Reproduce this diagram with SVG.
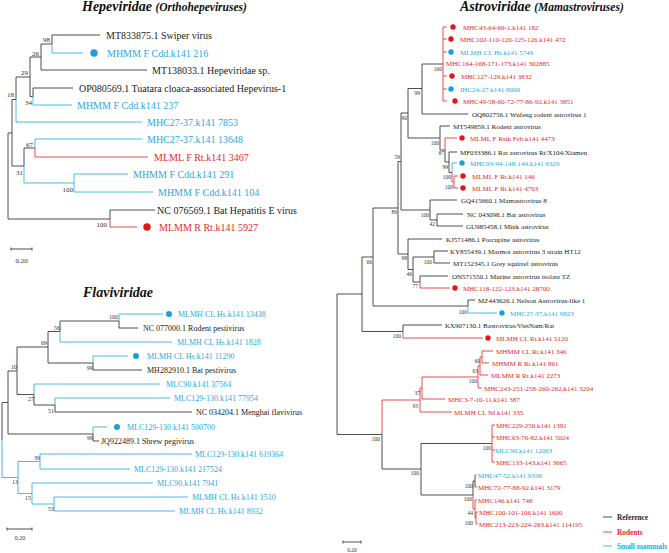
<svg xmlns="http://www.w3.org/2000/svg" width="669" height="553" viewBox="0 0 669 553">
<style>
text{font-family:"Liberation Serif","Times New Roman",serif}
.k{fill:none;stroke:#3a3a3a;stroke-width:0.9}
.b{fill:none;stroke:#35b2e6;stroke-width:0.9}
.r{fill:none;stroke:#e8383c;stroke-width:0.9}
.t{font-weight:bold;font-style:italic;fill:#111}
.h{font-size:10px}
.f{font-size:8px}
.a{font-size:7px}
.tk{fill:#222}
.tb{fill:#2aa9e2}
.tr{fill:#e8262a}
.s7{font-size:7px;fill:#333;text-anchor:end}
.s6{font-size:6px;fill:#333;text-anchor:end}
.s5{font-size:5.5px;fill:#333;text-anchor:end}
.db{fill:#1b9de2}
.dr{fill:#e4141b}
.lg{font-size:7.3px;font-weight:bold}
</style>

<g id="titles">
<text x="82" y="11" class="t" font-size="14">Hepeviridae <tspan font-size="11.5">(Orthohepeviruses)</tspan></text>
<text x="83" y="297" class="t" font-size="14">Flaviviridae</text>
<text x="460" y="11" class="t" font-size="14">Astroviridae <tspan font-size="11.5">(Mamastroviruses)</tspan></text>
</g>

<g id="connectors">
<path class="k" d="M8,133V219 M8,133H12 M8,219H110 M12,99.5V166 M12,99.5H16 M12,166H24 M16,77V99.5 M16,77H30 M30,57V96.5 M30,57H41 M30,96.5H33 M41,44V70 M41,44H52 M41,70H147 M52,35V44 M52,35H100 M33,88V96.5 M33,88H73 M24,148V166 M24,148H35 M110,210V219 M110,210H155"/>
<path class="b" d="M16,99.5V122H142 M52,44V53H83 M33,96.5V105H72 M24,166V183H74 M35,139V148 M35,139H142 M74,174V192 M74,174H128 M74,192H153"/>
<path class="r" d="M35,148V157H148 M110,219V227H137"/>

<path class="k" d="M2,402.5V440 M2,402.5H8 M8,371V434 M8,371H17 M8,434H93 M17,347V394.5 M17,347H48 M17,394.5H34 M48,331.5V363 M48,331.5H60 M48,363H93 M60,321V331.5 M60,321H119 M119,321V328H138 M93,363V370H142 M34,394.5V405H55 M55,405V412H192 M93,434V441H99"/>
<path class="b" d="M2,440V477.5H18 M60,331.5V342H172 M119,314V321 M119,314H163 M93,356V363 M93,356H128 M34,384V394.5 M34,384H160 M55,398V405 M55,398H170 M93,427V434 M93,427H107 M18,461.5V493.5 M18,461.5H40 M18,493.5H32 M40,454V469 M40,454H192 M40,469H130 M32,483V504 M32,483H153 M32,504H54 M54,497V511 M54,497H188 M54,511H175"/>

<path class="k" d="M337,294V434.5 M337,294H362 M337,434.5H382 M362,257V331.5 M362,257H373 M362,331.5H403 M373,208V306 M373,208H398 M373,306H468 M398,161.5V254 M398,161.5H401 M398,254H408 M401,113V210 M401,113H408 M401,210H430 M408,88.5V138 M408,88.5H422 M408,138H440 M422,64V114 M422,64H443 M422,114H468 M440,126V150 M440,126H450 M440,150H445 M445,150V162H449 M449,152V172.5 M449,152H457 M449,172.5H452 M430,200V220 M430,200H457 M430,220H437 M437,214V226 M437,214H463 M437,226H463 M408,239V269.5 M408,239H442 M408,269.5H413 M413,257V282 M413,257H434 M413,282H420 M434,251V263 M434,251H448 M434,263H450 M420,276V282 M420,276H448 M468,300V306 M468,300H475 M403,325V331.5 M403,325H442 M382,434.5V469H421 M421,443.5V495 M421,443.5H492 M421,495H473 M473,481V495 M473,481H475 M475,475V487"/>
<path class="r" d="M443,27V101 M443,27H447 M443,39H447 M443,52H447 M443,76H447 M443,89H447 M443,101H447 M445,138V150 M445,138H457 M452,172.5V182H454 M454,176V188 M454,176H458 M454,188H458 M420,282V288H450 M403,331.5V338H483 M382,400V434.5 M382,400H420 M420,388V412 M420,388H422 M420,412H452 M422,377V399 M422,377H478 M422,399H445 M478,366V388 M478,366H480 M478,388H482 M480,357V375 M480,357H482 M480,375H488 M482,351V363 M482,351H493 M482,363H489 M492,425V462 M492,425H495 M492,437H495 M492,450H495 M492,462H495 M473,495V509H475 M475,487H477 M475,500V518 M475,500H477 M475,518H476 M476,512V524 M476,512H478 M476,524H478"/>
<path class="b" d="M452,163V172.5 M452,163H457 M468,306V313H497 M475,475H477"/>

<path class="k" d="M11,249H32 M11,247.5V250.5 M32,247.5V250.5 M7,529H32 M7,527.5V530.5 M32,527.5V530.5 M343,542H361 M343,540.5V543.5 M361,540.5V543.5"/>
</g>

<g id="scales" font-size="7" fill="#333" text-anchor="middle">
<text x="21.5" y="263">0.20</text>
<text x="20" y="540" font-size="6">0.20</text>
<text x="352" y="552" font-size="5.5">0.20</text>
</g>

<g id="hepe-support" class="s7">
<text x="50" y="42" class="s7">98</text>
<text x="39" y="55.5" class="s7">26</text>
<text x="28" y="74.5" class="s7">29</text>
<text x="32" y="104.5" class="s7">34</text>
<text x="14" y="96.5" class="s7">18</text>
<text x="33" y="146.5" class="s7">67</text>
<text x="23" y="174.5" class="s7">31</text>
<text x="73" y="191.5" class="s7">100</text>
<text x="107" y="226.5" class="s7">100</text>
</g>

<g id="hepe-leaves">
<g id="h1"><text x="106" y="38.5" class="h tk">MT833875.1 Swiper virus</text></g>
<g id="h2"><circle cx="94" cy="53" r="3.7" class="db"/><text x="107" y="56.5" class="h tb">MHMM F Cdd.k141 216</text></g>
<g id="h3"><text x="152" y="73.5" class="h tk">MT138033.1 Hepeviridae sp.</text></g>
<g id="h4"><text x="79" y="91.5" class="h tk">OP080569.1 Tuatara cloaca-associated Hepevirus-1</text></g>
<g id="h5"><text x="77" y="108.5" class="h tb">MHMM F Cdd.k141 237</text></g>
<g id="h6"><text x="147" y="125.5" class="h tb">MHC27-37.k141 7853</text></g>
<g id="h7"><text x="147" y="142.5" class="h tb">MHC27-37.k141 13648</text></g>
<g id="h8"><text x="154" y="160.5" class="h tr">MLML F Rt.k141 3467</text></g>
<g id="h9"><text x="133" y="177.5" class="h tb">MHMM F Cdd.k141 291</text></g>
<g id="h10"><text x="158" y="195.5" class="h tb">MHMM F Cdd.k141 104</text></g>
<g id="h11"><text x="157" y="213.5" class="h tk">NC 076569.1 Bat Hepatitis E virus</text></g>
<g id="h12"><circle cx="147" cy="227" r="3.7" class="dr"/><text x="159" y="230.5" class="h tr">MLMM R Rt.k141 5927</text></g>
</g>

<g id="flavi-support">
<text x="118" y="318.5" class="s6">100</text>
<text x="60" y="330" class="s6">56</text>
<text x="47" y="345" class="s6">69</text>
<text x="93" y="370" class="s6">99</text>
<text x="17" y="369" class="s6">10</text>
<text x="34" y="401" class="s6">27</text>
<text x="54" y="413" class="s6">51</text>
<text x="93" y="440" class="s6">99</text>
<text x="40" y="460" class="s6">39</text>
<text x="18" y="484" class="s6">13</text>
<text x="31" y="500" class="s6">15</text>
<text x="54" y="511" class="s6">53</text>
</g>

<g id="flavi-leaves">
<g id="f1"><circle cx="169" cy="314" r="3" class="db"/><text x="178" y="317" class="f tb">MLMH CL Hs.k141 13438</text></g>
<g id="f2"><text x="143" y="331" class="f tk">NC 077000.1 Rodent pestivirus</text></g>
<g id="f3"><text x="177" y="345" class="f tb">MLMH CL Hs.k141 1828</text></g>
<g id="f4"><circle cx="136" cy="356" r="3" class="db"/><text x="147" y="359" class="f tb">MLMH CL Hs.k141 11290</text></g>
<g id="f5"><text x="147" y="373" class="f tk">MH282910.1 Bat pestivirus</text></g>
<g id="f6"><text x="166" y="387" class="f tb">MLC90.k141 37564</text></g>
<g id="f7"><text x="174" y="401" class="f tb">MLC129-130.k141 77954</text></g>
<g id="f8"><text x="196" y="415" class="f tk">NC 034204.1 Menghai flavivirus</text></g>
<g id="f9"><circle cx="117" cy="427" r="3" class="db"/><text x="127" y="430" class="f tb">MLC129-130.k141 500700</text></g>
<g id="f10"><text x="101" y="444" class="f tk">JQ922489.1 Shrew pegivirus</text></g>
<g id="f11"><text x="195" y="457" class="f tb">MLC129-130.k141 619364</text></g>
<g id="f12"><text x="134" y="472" class="f tb">MLC129-130.k141 217524</text></g>
<g id="f13"><text x="157" y="486" class="f tb">MLC90.k141 7941</text></g>
<g id="f14"><text x="192" y="500" class="f tb">MLMH CL Hs.k141 1510</text></g>
<g id="f15"><text x="179" y="514" class="f tb">MLMH CL Hs.k141 8932</text></g>
</g>

<g id="astro-support">
<text x="442" y="70.5" class="s5">100</text>
<text x="420" y="95" class="s5">99</text>
<text x="407" y="120" class="s5">90</text>
<text x="439" y="145" class="s5">100</text>
<text x="444" y="155" class="s5">87</text>
<text x="448" y="169" class="s5">99</text>
<text x="451" y="179" class="s5">100</text>
<text x="453" y="189" class="s5">100</text>
<text x="400" y="159" class="s5">59</text>
<text x="397" y="214" class="s5">89</text>
<text x="429" y="217" class="s5">100</text>
<text x="435" y="226" class="s5">42</text>
<text x="407" y="260" class="s5">98</text>
<text x="432" y="264" class="s5">100</text>
<text x="412" y="276" class="s5">46</text>
<text x="418" y="288" class="s5">77</text>
<text x="372" y="264" class="s5">66</text>
<text x="467" y="314" class="s5">100</text>
<text x="401" y="338" class="s5">100</text>
<text x="480" y="363" class="s5">60</text>
<text x="478" y="373" class="s5">63</text>
<text x="477" y="383" class="s5">100</text>
<text x="420" y="395" class="s5">37</text>
<text x="418" y="408" class="s5">93</text>
<text x="380" y="441" class="s5">100</text>
<text x="419" y="475" class="s5">100</text>
<text x="491" y="450" class="s5">100</text>
<text x="473" y="488" class="s5">100</text>
<text x="472" y="501" class="s5">100</text>
<text x="473" y="515" class="s5">44</text>
<text x="473" y="525" class="s5">100</text>
</g>

<g id="astro-leaves">
<g id="a1"><circle cx="453" cy="27" r="2.7" class="dr"/><text x="463" y="29.5" class="a tr">MHC43-64-69-1.k141 182</text></g>
<g id="a2"><circle cx="451" cy="39" r="2.7" class="dr"/><text x="460" y="41.5" class="a tr">MHC102-110-120-125-126.k141 472</text></g>
<g id="a3"><circle cx="451" cy="52" r="2.7" class="db"/><text x="460" y="54.5" class="a tb">MLMH CL Hs.k141 5749</text></g>
<g id="a4"><text x="446" y="65.5" class="a tr">MHC164-168-171-173.k141 302885</text></g>
<g id="a5"><circle cx="452" cy="76" r="2.7" class="dr"/><text x="461" y="78.5" class="a tr">MHC127-129.k141 3832</text></g>
<g id="a6"><circle cx="451" cy="89" r="2.7" class="db"/><text x="460" y="91.5" class="a tb">IHC24-27.k141 8000</text></g>
<g id="a7"><circle cx="455" cy="101" r="2.7" class="dr"/><text x="463" y="103.5" class="a tr">MHC49-58-60-72-77-86-92.k141 3851</text></g>
<g id="a8"><text x="472" y="116.5" class="a tk">OQ802756.1 Wufeng rodent astrovirus 1</text></g>
<g id="a9"><text x="453" y="128.5" class="a tk">MT549859.1 Rodent astrovirus</text></g>
<g id="a10"><circle cx="462" cy="138" r="2.7" class="dr"/><text x="470" y="140.5" class="a tr">MLML F Rsik Feb.k141 4473</text></g>
<g id="a11"><text x="460" y="154.5" class="a tk">MF033386.1 Rat astrovirus Rt/X104/Xiamen</text></g>
<g id="a12"><circle cx="462" cy="163" r="2.7" class="db"/><text x="470" y="165.5" class="a tb">MHC93-94-148-149.k141 6329</text></g>
<g id="a13"><circle cx="463" cy="176" r="2.7" class="dr"/><text x="472" y="178.5" class="a tr">MLML F Rt.k141 146</text></g>
<g id="a14"><circle cx="463" cy="188" r="2.7" class="dr"/><text x="472" y="190.5" class="a tr">MLML F Rt.k141 4703</text></g>
<g id="a15"><text x="461" y="202.5" class="a tk">GQ415660.1 Mamastrovirus 8</text></g>
<g id="a16"><text x="467" y="216.5" class="a tk">NC 043098.1 Bat astrovirus</text></g>
<g id="a17"><text x="466" y="228.5" class="a tk">GU985458.1 Mink astrovirus</text></g>
<g id="a18"><text x="446" y="241.5" class="a tk">KJ571486.1 Porcupine astrovirus</text></g>
<g id="a19"><text x="450" y="253.5" class="a tk">KY855439.1 Marmot astrovirus 3 strain HT12</text></g>
<g id="a20"><text x="453" y="265.5" class="a tk">MT152345.1 Grey squirrel astrovirus</text></g>
<g id="a21"><text x="452" y="278.5" class="a tk">ON571550.1 Murine astrovirus isolate TZ</text></g>
<g id="a22"><circle cx="455" cy="288" r="2.7" class="dr"/><text x="463" y="290.5" class="a tr">MHC118-122-123.k141 28700</text></g>
<g id="a23"><text x="478" y="302.5" class="a tk">MZ443626.1 Nelson Astrovirus-like 1</text></g>
<g id="a24"><circle cx="502" cy="313" r="2.7" class="db"/><text x="510" y="315.5" class="a tb">MHC27-37.k141 9823</text></g>
<g id="a25"><text x="445" y="327.5" class="a tk">KX907130.1 Bastrovirus/VietNam/Rat</text></g>
<g id="a26"><circle cx="488" cy="338" r="2.7" class="dr"/><text x="496" y="340.5" class="a tr">MLMH CL Rt.k141 5120</text></g>
<g id="a27"><text x="496" y="353.5" class="a tr">MHMM CL Rt.k141 346</text></g>
<g id="a28"><text x="492" y="365.5" class="a tr">MHMM R Rt.k141 861</text></g>
<g id="a29"><text x="491" y="377.5" class="a tr">MLMM R Rt.k141 2273</text></g>
<g id="a30"><text x="484" y="390.5" class="a tr">MHC243-251-258-260-262.k141 3204</text></g>
<g id="a31"><text x="448" y="401.5" class="a tr">MHC3-7-10-11.k141 387</text></g>
<g id="a32"><text x="454" y="414.5" class="a tr">MLMH CL Nf.k141 335</text></g>
<g id="a33"><text x="496" y="427.5" class="a tr">MHC229-250.k141 1391</text></g>
<g id="a34"><text x="496" y="439.5" class="a tr">MHC63-76-82.k141 5024</text></g>
<g id="a35"><text x="495" y="452.5" class="a tb">MLC90.k141 12063</text></g>
<g id="a36"><text x="496" y="464.5" class="a tr">MHC133-143.k141 3665</text></g>
<g id="a37"><text x="478" y="477.5" class="a tb">MHC47-52.k141 9338</text></g>
<g id="a38"><text x="478" y="489.5" class="a tr">MHC72-77-88-92.k141 3179</text></g>
<g id="a39"><text x="478" y="502.5" class="a tr">MHC146.k141 748</text></g>
<g id="a40"><text x="479" y="514.5" class="a tr">MHC100-101-106.k141 1600</text></g>
<g id="a41"><text x="479" y="526.5" class="a tr">MHC213-223-224-263.k141 114195</text></g>
</g>

<g id="legend">
<path class="k" d="M603,517H612"/>
<path class="r" d="M603,532H612"/>
<path class="b" d="M603,546H612"/>
<text x="617" y="519.5" class="lg tk">Reference</text>
<text x="617" y="534.5" class="lg tr">Rodents</text>
<text x="617" y="548.5" class="lg tb">Small mammals</text>
</g>
</svg>
